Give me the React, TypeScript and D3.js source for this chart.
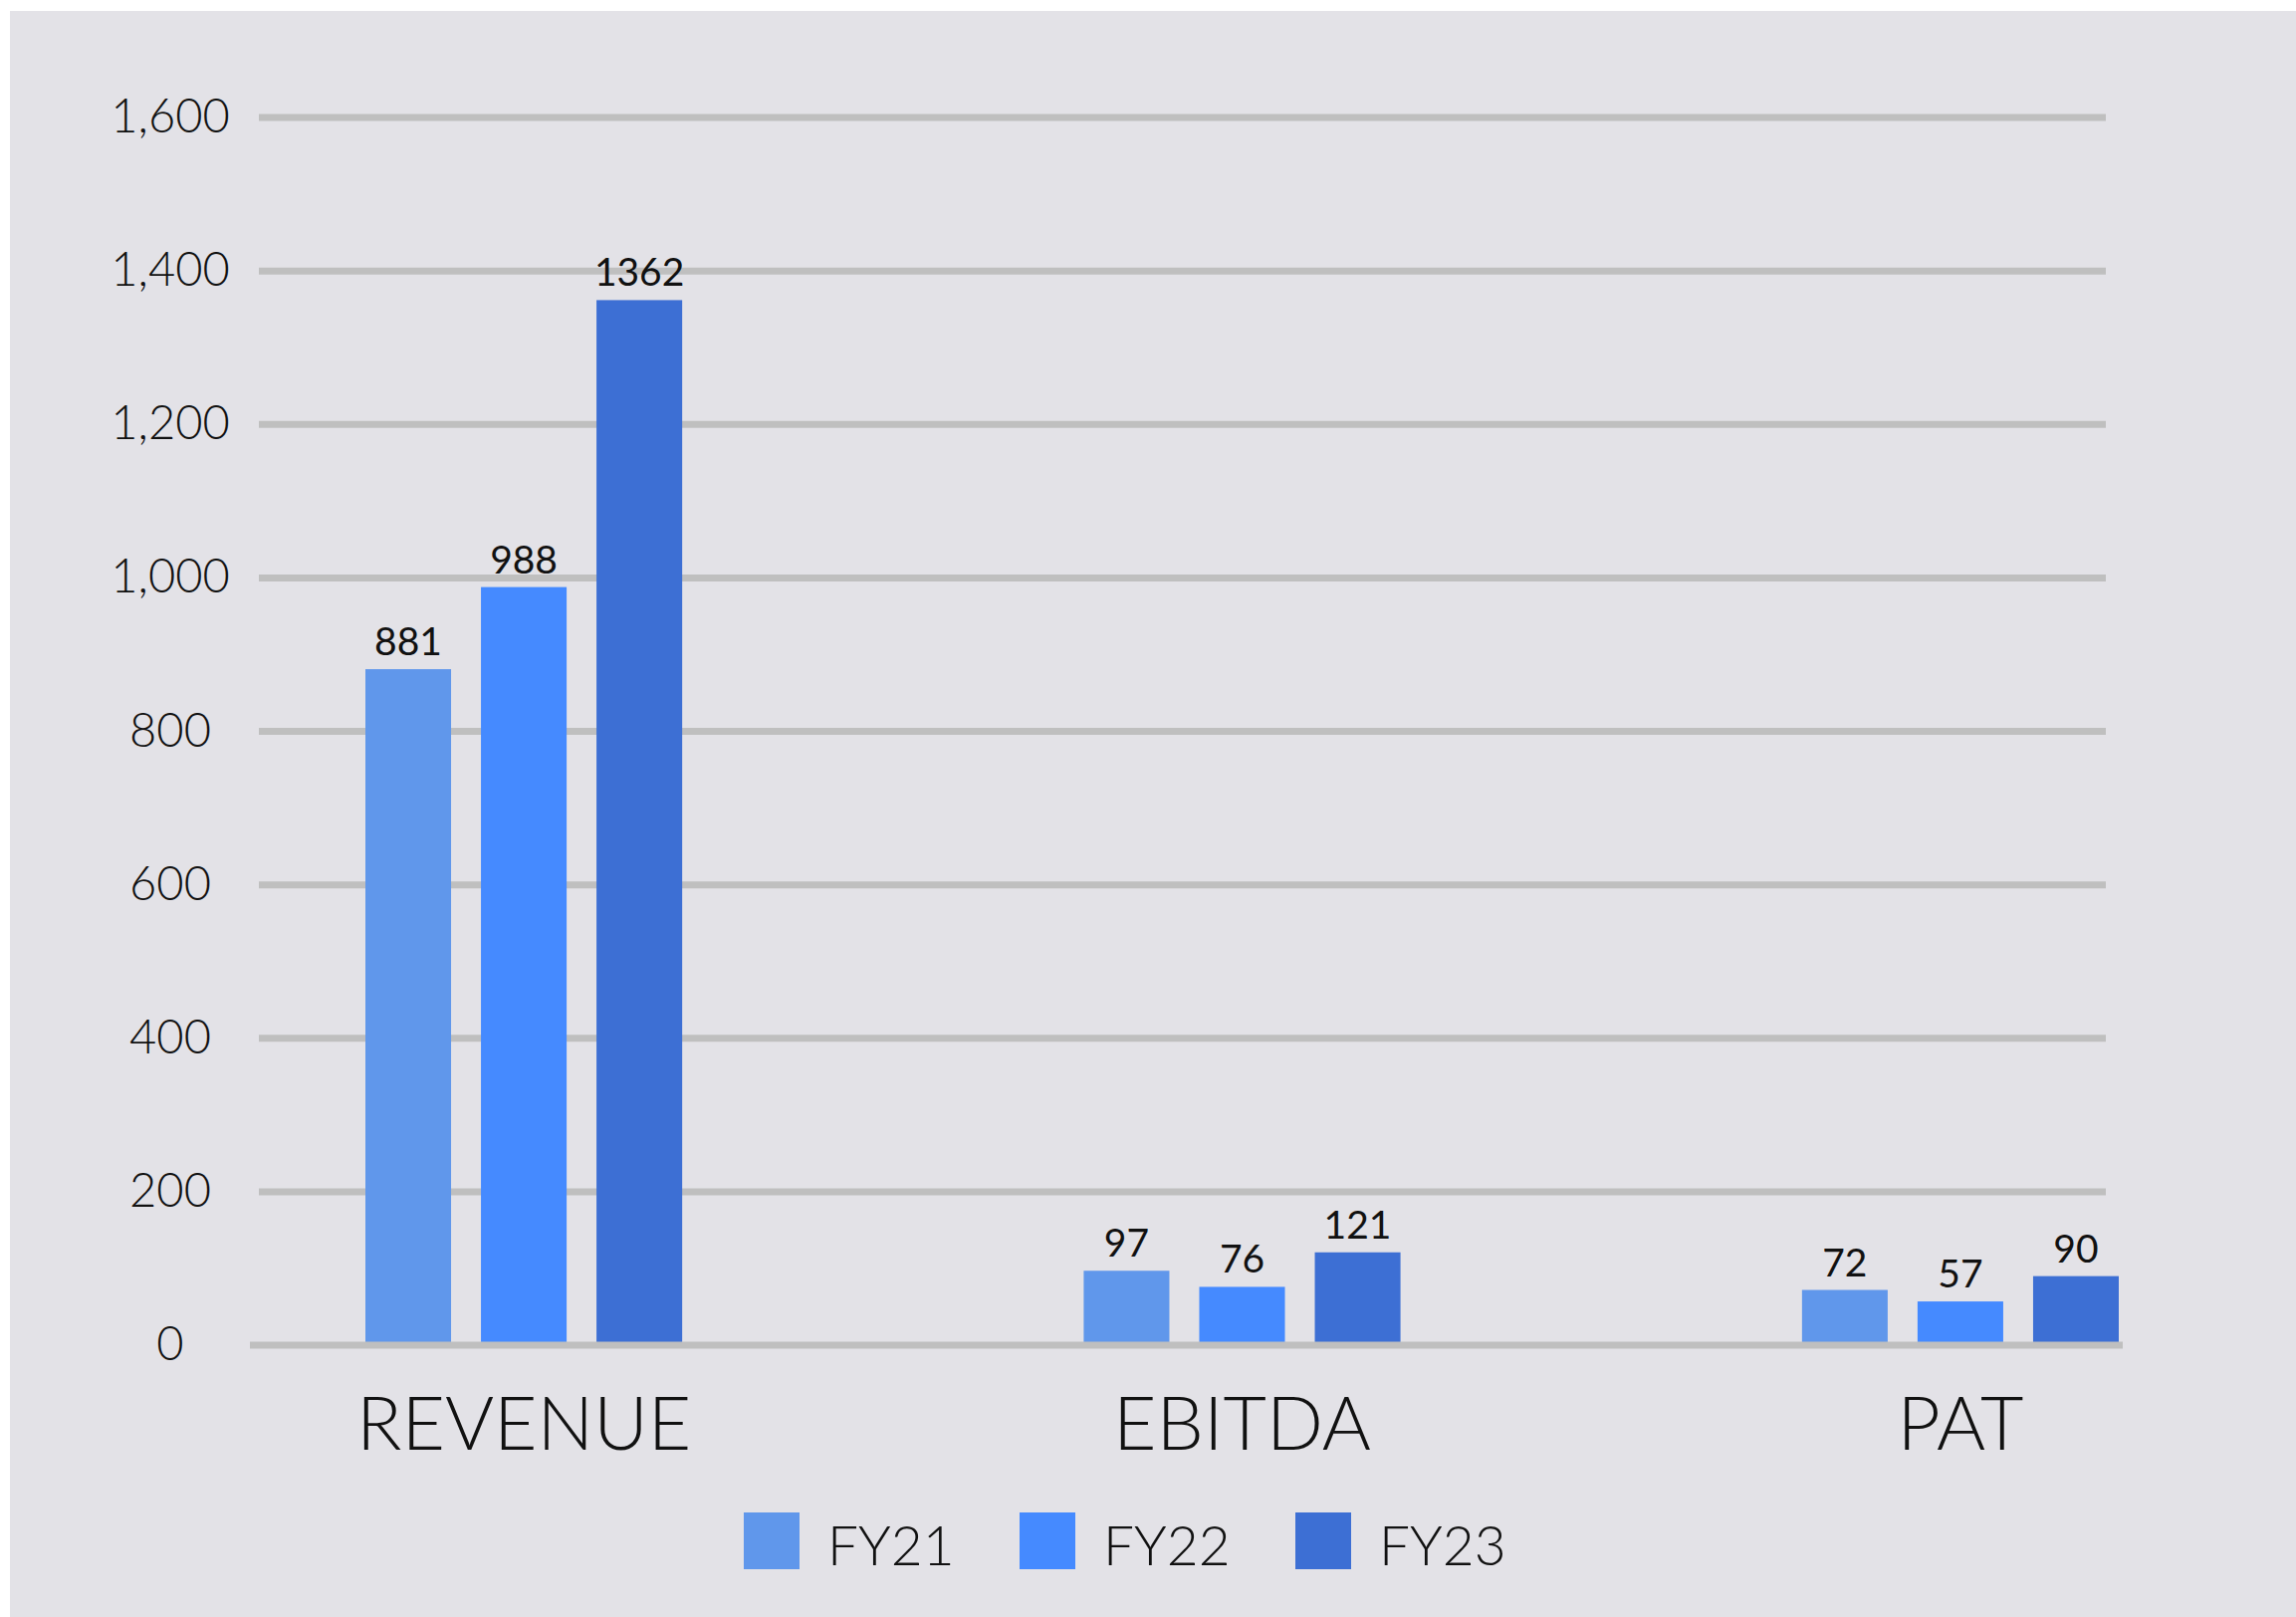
import React from "react";
import * as d3 from "d3";

// ---- data ----
const categories = ["REVENUE", "EBITDA", "PAT"];
const seriesNames = ["FY21", "FY22", "FY23"];
const fy21Values = [881, 97, 72];
const fy22Values = [988, 76, 57];
const fy23Values = [1362, 121, 90];
const yTickValues = [0, 200, 400, 600, 800, 1000, 1200, 1400, 1600];

const seriesValues = [fy21Values, fy22Values, fy23Values];
const seriesColors = ["#6097eb", "#458aff", "#3d6fd4"];

// ---- layout ----
const W = 2306;
const H = 1624;
const FONT = "Lato, 'Open Sans', 'DejaVu Sans', sans-serif";

export default function App() {
  const y = d3.scaleLinear().domain([0, 1600]).range([1351, 118]);
  const x0 = d3
    .scaleBand<string>()
    .domain(categories)
    .range([367, 2128])
    .paddingInner(0.559)
    .paddingOuter(0);
  const x1 = d3
    .scaleBand<string>()
    .domain(seriesNames)
    .range([0, x0.bandwidth()])
    .paddingInner(0.2586);
  const fmt = d3.format(",");
  const legendX = d3.scaleLinear().domain([0, 1]).range([747, 1024]);

  return (
    <svg
      width={W}
      height={H}
      style={{ position: "absolute", left: 0, top: 0, display: "block", background: "#ffffff" }}
    >
      <rect x={10} y={11} width={W - 10} height={H - 11} fill="#e3e2e7" />

      {/* gridlines */}
      {yTickValues.filter((t) => t !== 0).map((t) => (
        <line key={t} x1={260} x2={2115} y1={y(t)} y2={y(t)} stroke="#bfbfbf" strokeWidth={7} />
      ))}

      {/* tick labels */}
      {yTickValues.map((t) => (
        <text
          key={"l" + t}
          x={171}
          y={y(t) - 3}
          textAnchor="middle"
          dominantBaseline="central"
          fontFamily={FONT}
          fontWeight={300}
          fontSize={47}
          fill="#111"
        >
          {fmt(t)}
        </text>
      ))}

      {/* bars */}
      {seriesNames.map((s, si) =>
        categories.map((c, ci) => {
          const v = seriesValues[si][ci];
          const bx = (x0(c) as number) + (x1(s) as number);
          return (
            <rect
              key={s + c}
              x={bx}
              y={y(v)}
              width={x1.bandwidth()}
              height={y(0) - y(v)}
              fill={seriesColors[si]}
            />
          );
        })
      )}

      {/* zero line */}
      <line x1={251} x2={2132} y1={y(0)} y2={y(0)} stroke="#bfbfbf" strokeWidth={7} />

      {/* value labels */}
      {seriesNames.map((s, si) =>
        categories.map((c, ci) => {
          const v = seriesValues[si][ci];
          const cx = (x0(c) as number) + (x1(s) as number) + x1.bandwidth() / 2;
          return (
            <text
              key={"v" + s + c}
              x={cx}
              y={y(v) - 14}
              textAnchor="middle"
              fontFamily={FONT}
              fontWeight={400}
              fontSize={39}
              fill="#111"
            >
              {v}
            </text>
          );
        })
      )}

      {/* category labels */}
      {categories.map((c) => (
        <text
          key={"c" + c}
          x={(x0(c) as number) + x0.bandwidth() / 2}
          y={1456}
          textAnchor="middle"
          fontFamily={FONT}
          fontWeight={300}
          fontSize={75}
          fill="#111"
        >
          {c}
        </text>
      ))}

      {/* legend */}
      {seriesNames.map((s, si) => (
        <g key={"lg" + s} transform={`translate(${legendX(si)},1519)`}>
          <rect x={0} y={0} width={56} height={57} fill={seriesColors[si]} />
          <text
            x={84}
            y={53}
            fontFamily={FONT}
            fontWeight={300}
            fontSize={55}
            fill="#111"
          >
            {s}
          </text>
        </g>
      ))}
    </svg>
  );
}
